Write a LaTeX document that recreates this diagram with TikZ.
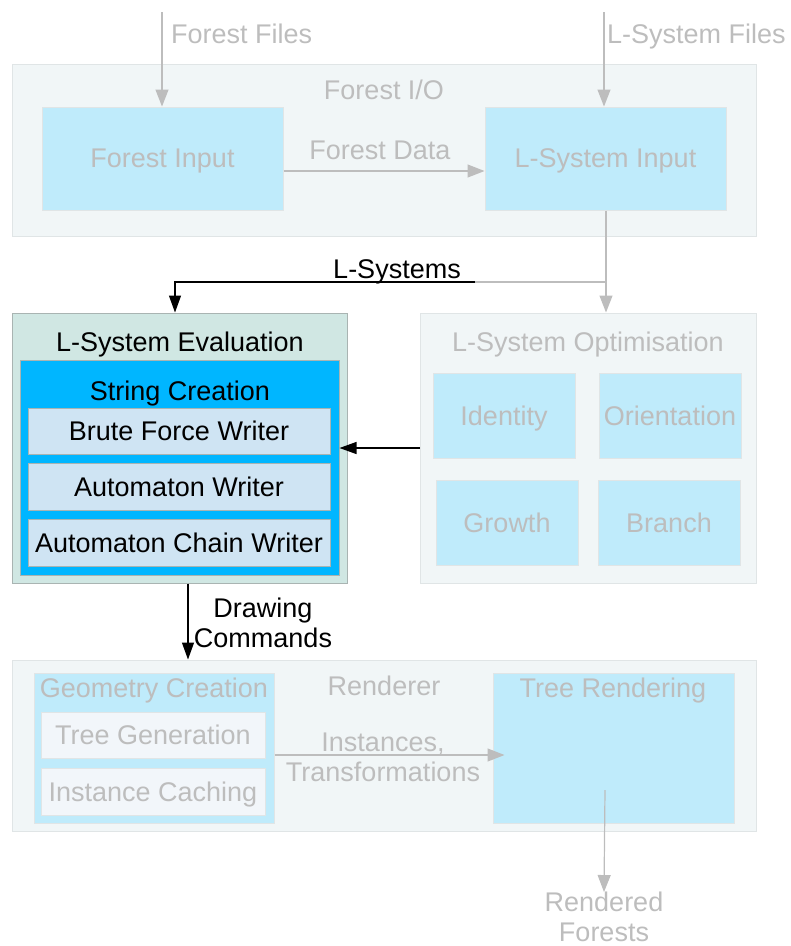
\documentclass[tikz,border=0pt]{standalone}
\usepackage{fontspec}
\setmainfont{Liberation Sans}
\usetikzlibrary{arrows.meta}

\definecolor{paneback}{HTML}{F1F6F7}
\definecolor{paneline}{HTML}{E0E5E6}
\definecolor{skyfill}{HTML}{BFEBFB}
\definecolor{dimtext}{HTML}{BDBDBD}
\definecolor{evalfill}{HTML}{D0E7E3}
\definecolor{evalline}{HTML}{A9B4B2}
\definecolor{strfill}{HTML}{00B6FF}
\definecolor{writerfill}{HTML}{CFE4F3}
\definecolor{cachefill}{HTML}{F2F6FA}

\tikzset{
  pane/.style={rectangle, fill=paneback, draw=paneline, line width=1pt, inner sep=0pt},
  sky/.style={rectangle, fill=skyfill, draw=paneline, line width=1pt, text=dimtext, inner sep=0pt, text depth=0pt},
  writer/.style={rectangle, fill=writerfill, draw=evalline, line width=1pt, inner sep=0pt, text depth=0pt, minimum width=302},
  cache/.style={rectangle, fill=cachefill, draw=paneline, line width=1pt, text=dimtext, inner sep=0pt, text depth=0pt, minimum width=224},
  dim/.style={text=dimtext, inner sep=0pt, align=center, text depth=0pt},
  live/.style={text=black, inner sep=0pt, align=center, text depth=0pt},
  flow/.style={color=dimtext, line width=1.2pt, -{Triangle[length=17pt,width=13pt]}},
  hot/.style={color=black, line width=1.2pt, -{Triangle[length=17pt,width=12pt]}}
}

\begin{document}
\begin{tikzpicture}[x=1pt, y=-1pt, font=\fontsize{27}{30}\selectfont]
  \useasboundingbox (0,0) rectangle (791,946);

  % Forest I/O
  \node[pane, minimum width=744, minimum height=172] (fio) at (384,150) {};
  \node[dim] (fio-t) at (384,90) {Forest I/O};
  \node[sky, minimum width=241, minimum height=103] (fin) at (162.5,158.5) {Forest Input};
  \node[sky, minimum width=241, minimum height=103] (lsin) at (605.5,158.5) {L-System Input};

  % L-System Evaluation
  \node[rectangle, fill=evalfill, draw=evalline, line width=1pt, minimum width=335, minimum height=270] (eval) at (179.5,448) {};
  \node[live] (eval-t) at (180,342) {L-System Evaluation};
  \node[rectangle, fill=strfill, draw=evalline, line width=1pt, minimum width=319, minimum height=215] (strc) at (179.5,467.5) {};
  \node[live] (strc-t) at (180,391) {String Creation};
  \node[writer, minimum height=46] (bfw) at (179,431) {Brute Force Writer};
  \node[writer, minimum height=47] (aw) at (179,486.5) {Automaton Writer};
  \node[writer, minimum height=47] (acw) at (179,542.5) {Automaton Chain Writer};

  % L-System Optimisation
  \node[pane, minimum width=336, minimum height=270] (opt) at (588,448) {};
  \node[dim] (opt-t) at (588,342) {L-System Optimisation};
  \node[sky, minimum width=142, minimum height=85] (ident) at (504,415.5) {Identity};
  \node[sky, minimum width=142, minimum height=85] (orient) at (670,415.5) {Orientation};
  \node[sky, minimum width=142, minimum height=85] (growth) at (507,522.5) {Growth};
  \node[sky, minimum width=142, minimum height=85] (branch) at (669,522.5) {Branch};

  % Renderer
  \node[pane, minimum width=744, minimum height=171] (rend) at (384,745.5) {};
  \node[dim] (rend-t) at (384,686) {Renderer};
  \node[sky, minimum width=240, minimum height=150] (geo) at (154,748) {};
  \node[dim] (geo-t) at (154,688) {Geometry Creation};
  \node[cache, minimum height=46] (tgen) at (153,735) {Tree Generation};
  \node[cache, minimum height=47] (icache) at (153,791.5) {Instance Caching};
  \node[sky, minimum width=241, minimum height=150] (trend) at (613.5,748) {};
  \node[dim] (trend-t) at (613,688) {Tree Rendering};

  % connectors
  \coordinate (ff) at (162,12);
  \coordinate (lsf) at (604,12);
  \coordinate (split) at (606,282);
  \coordinate (fade) at (475,282);
  \coordinate (dc) at ([xshift=8.5pt]eval.south);
  \coordinate (rf) at (605,790);
  \node[dim, anchor=west] (ff-l) at (171,34) {Forest Files};
  \node[dim, anchor=west] (lsf-l) at (607,34) {L-System Files};
  \node[dim] (fd-l) at (380,150) {Forest Data};
  \node[live] (ls-l) at (397,269) {L-Systems};
  \node[live] (dc-l) at (263,623) {Drawing\\Commands};
  \node[dim] (it-l) at (383,757) {Instances,\\Transformations};
  \node[dim] (rf-l) at (604,917) {Rendered\\Forests};

  \path[flow]
    (ff) edge (ff |- fin.north)
    (lsf) edge (lsf |- lsin.north)
    ([yshift=-12.5pt]fin.east) edge ([yshift=-12.5pt]lsin.west)
    ([yshift=-7pt]geo.east) edge ([xshift=12pt,yshift=-7pt]trend.west)
    (rf) edge (rf-l.north);
  \draw[flow] (split |- lsin.south) -- (split) -- (split |- opt.north);
  \draw[dimtext, line width=1.2pt] (split) -- (fade);
  \draw[hot] (fade) -| ([xshift=-4.5pt]eval.north);
  \draw[hot] (opt.west) -- (strc.east |- opt.west);
  \draw[hot] (dc) -- (dc |- rend.north);
\end{tikzpicture}
\end{document}
